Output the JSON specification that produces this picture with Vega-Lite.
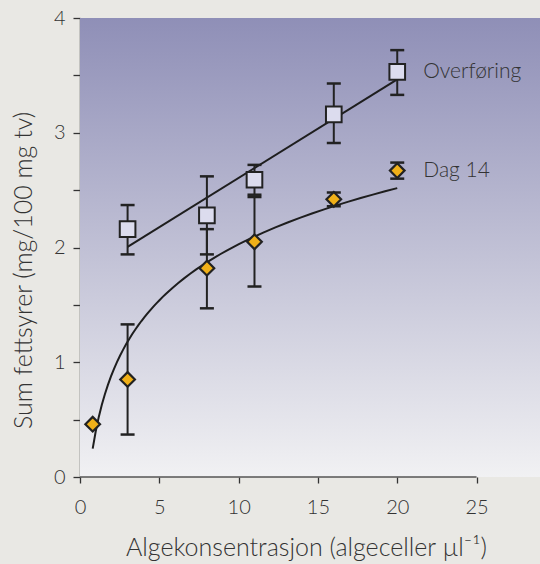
{
  "$schema": "https://vega.github.io/schema/vega-lite/v6.json",
  "width": 460,
  "height": 459,
  "autosize": {"type": "none"},
  "padding": {"left": 80, "top": 18, "right": 0, "bottom": 87},
  "background": "#e9e8e4",
  "config": {
    "view": {"stroke": null},
    "font": "Lato",
    "axis": {"labelFont": "Lato", "titleFont": "Lato", "labelFontWeight": 300, "titleFontWeight": 300, "labelColor": "#333", "titleColor": "#333", "grid": false, "domainColor": "#555", "tickColor": "#333", "domainWidth": 1.5, "tickWidth": 1.3, "labelFlush": false, "zindex": 1}
  },
  "datasets": {
    "pts": [
      {"series": "Overføring", "x": 3, "y": 2.16, "lo": 1.94, "hi": 2.37},
      {"series": "Overføring", "x": 8, "y": 2.28, "lo": 1.94, "hi": 2.62},
      {"series": "Overføring", "x": 11, "y": 2.59, "lo": 2.46, "hi": 2.72},
      {"series": "Overføring", "x": 16, "y": 3.16, "lo": 2.91, "hi": 3.43},
      {"series": "Overføring", "x": 20, "y": 3.53, "lo": 3.33, "hi": 3.72},
      {"series": "Dag 14", "x": 0.8, "y": 0.46, "lo": null, "hi": null},
      {"series": "Dag 14", "x": 3, "y": 0.85, "lo": 0.37, "hi": 1.33},
      {"series": "Dag 14", "x": 8, "y": 1.82, "lo": 1.47, "hi": 2.16},
      {"series": "Dag 14", "x": 11, "y": 2.05, "lo": 1.66, "hi": 2.44},
      {"series": "Dag 14", "x": 16, "y": 2.42, "lo": 2.36, "hi": 2.48},
      {"series": "Dag 14", "x": 20, "y": 2.67, "lo": 2.6, "hi": 2.74}
    ],
    "bg": [{"x0": 0, "x1": 29, "y0": 0, "y1": 4}],
    "axisline": [{"x0": 0, "x1": 25, "y": 0}]
  },
  "layer": [
    {
      "data": {"name": "bg"},
      "mark": {"type": "rect", "color": {"gradient": "linear", "x1": 0, "y1": 0, "x2": 0, "y2": 1, "stops": [{"offset": 0, "color": "#8f8fb7"}, {"offset": 1, "color": "#f1f1f3"}]}},
      "encoding": {
        "x": {"field": "x0", "type": "quantitative", "scale": {"domain": [0, 29], "nice": false}, "axis": {"values": [0, 5, 10, 15, 20, 25], "format": "d", "domain": false, "labelFontSize": 20, "labelPadding": 14, "tickSize": 6, "title": "Algekonsentrasjon (algeceller µl⁻¹)", "titleFontSize": 25, "titlePadding": 18, "titleX": 226}},
        "x2": {"field": "x1"},
        "y": {"field": "y0", "type": "quantitative", "scale": {"domain": [0, 4], "nice": false}, "axis": {"values": [0, 0.5, 1, 1.5, 2, 2.5, 3, 3.5, 4], "labelExpr": "datum.value % 1 === 0 ? format(datum.value, 'd') : ''", "labelFontSize": 20, "labelPadding": 8, "tickSize": 7, "title": "Sum fettsyrer (mg/100 mg tv)", "titleFontSize": 25, "titlePadding": 17, "titleY": 252}},
        "y2": {"field": "y1"}
      }
    },
    {
      "data": {"name": "axisline"},
      "mark": {"type": "rule", "color": "#555", "strokeWidth": 1.5},
      "encoding": {
        "x": {"field": "x0", "type": "quantitative"},
        "x2": {"field": "x1"},
        "y": {"field": "y", "type": "quantitative"}
      }
    },
    {
      "data": {"name": "pts"},
      "transform": [{"filter": "datum.series === 'Overføring'"}, {"regression": "y", "on": "x", "method": "linear", "extent": [3, 20]}],
      "mark": {"type": "line", "color": "#1e1e1e", "strokeWidth": 2},
      "encoding": {"x": {"field": "x", "type": "quantitative"}, "y": {"field": "y", "type": "quantitative"}}
    },
    {
      "data": {"name": "pts"},
      "transform": [{"filter": "datum.series === 'Dag 14'"}, {"regression": "y", "on": "x", "method": "log", "extent": [0.8, 20]}],
      "mark": {"type": "line", "color": "#1e1e1e", "strokeWidth": 2},
      "encoding": {"x": {"field": "x", "type": "quantitative"}, "y": {"field": "y", "type": "quantitative"}}
    },
    {
      "data": {"name": "pts"},
      "transform": [{"filter": "datum.lo != null"}],
      "mark": {"type": "rule", "color": "#222", "strokeWidth": 2},
      "encoding": {"x": {"field": "x", "type": "quantitative"}, "y": {"field": "lo", "type": "quantitative"}, "y2": {"field": "hi"}}
    },
    {
      "data": {"name": "pts"},
      "transform": [{"filter": "datum.lo != null"}],
      "mark": {"type": "tick", "orient": "horizontal", "color": "#222", "size": 14, "thickness": 2.5, "opacity": 1},
      "encoding": {"x": {"field": "x", "type": "quantitative"}, "y": {"field": "lo", "type": "quantitative"}}
    },
    {
      "data": {"name": "pts"},
      "transform": [{"filter": "datum.lo != null"}],
      "mark": {"type": "tick", "orient": "horizontal", "color": "#222", "size": 14, "thickness": 2.5, "opacity": 1},
      "encoding": {"x": {"field": "x", "type": "quantitative"}, "y": {"field": "hi", "type": "quantitative"}}
    },
    {
      "data": {"name": "pts"},
      "transform": [{"filter": "datum.series === 'Overføring'"}],
      "mark": {"type": "point", "shape": "square", "size": 245, "filled": true, "fill": "#dcdcee", "stroke": "#222", "strokeWidth": 2, "opacity": 1},
      "encoding": {"x": {"field": "x", "type": "quantitative"}, "y": {"field": "y", "type": "quantitative"}}
    },
    {
      "data": {"name": "pts"},
      "transform": [{"filter": "datum.series === 'Dag 14'"}],
      "mark": {"type": "point", "shape": "diamond", "size": 215, "filled": true, "fill": "#f0b018", "stroke": "#222", "strokeWidth": 2.2, "opacity": 1},
      "encoding": {"x": {"field": "x", "type": "quantitative"}, "y": {"field": "y", "type": "quantitative"}}
    },
    {
      "data": {"name": "pts"},
      "transform": [{"filter": "datum.x === 20"}],
      "mark": {"type": "text", "align": "left", "baseline": "middle", "dx": 26, "fontSize": 21, "fontWeight": 300, "font": "Lato", "color": "#333"},
      "encoding": {"x": {"field": "x", "type": "quantitative"}, "y": {"field": "y", "type": "quantitative"}, "text": {"field": "series"}}
    }
  ]
}
